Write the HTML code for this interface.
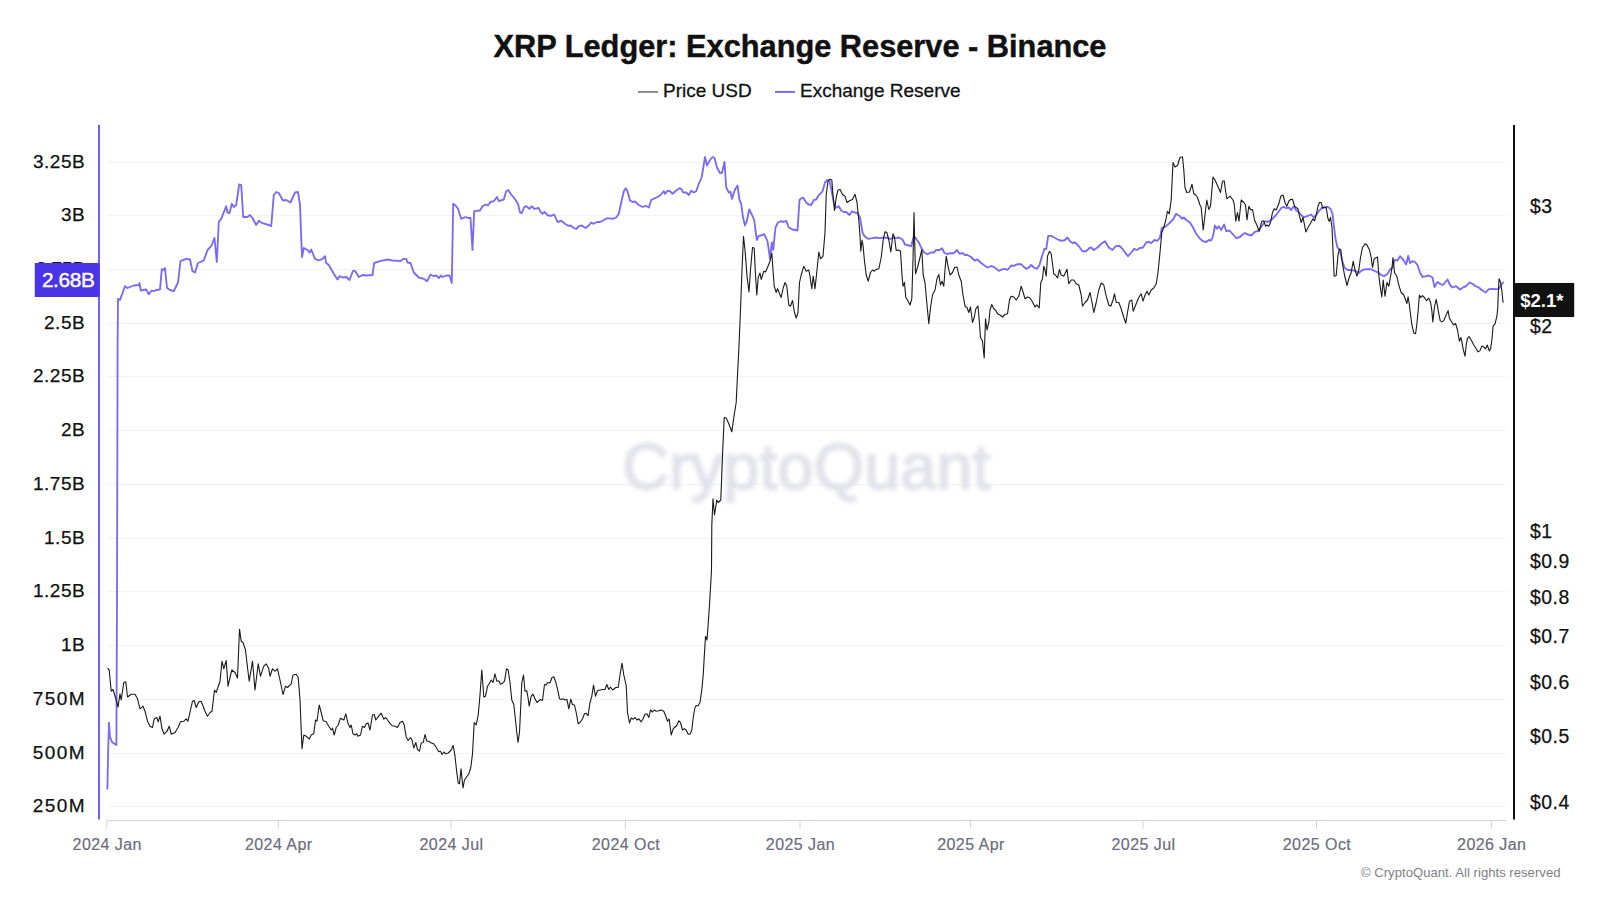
<!DOCTYPE html>
<html><head><meta charset="utf-8"><title>XRP Ledger: Exchange Reserve - Binance</title>
<style>
html,body{margin:0;padding:0;background:#fff;}
body{width:1600px;height:900px;overflow:hidden;position:relative;font-family:"Liberation Sans",Arial,sans-serif;}
svg{position:absolute;left:0;top:0;}
text{font-family:"Liberation Sans",Arial,sans-serif;}
.title{font-size:30.75px;font-weight:700;fill:#111;stroke:#111;stroke-width:0.45px;}
.leg{font-size:19px;fill:#111;stroke:#111;stroke-width:0.3px;}
.yl{font-size:19px;letter-spacing:0.55px;fill:#111;stroke:#111;stroke-width:0.25px;text-anchor:end;}
.yr{font-size:19.4px;letter-spacing:0.5px;fill:#111;stroke:#111;stroke-width:0.25px;text-anchor:start;}
.xl{font-size:16px;letter-spacing:0.45px;fill:#6c6c7c;stroke:#6c6c7c;stroke-width:0.2px;text-anchor:middle;}
.foot{font-size:13.15px;fill:#808088;text-anchor:end;}
.wm{font-size:64.6px;letter-spacing:0.2px;fill:#e2e2eb;stroke:#e2e2eb;stroke-width:2px;text-anchor:middle;filter:url(#blur);}
</style></head><body>
<svg width="1600" height="900" viewBox="0 0 1600 900">
<defs><filter id="blur" x="-5%" y="-20%" width="110%" height="140%"><feGaussianBlur stdDeviation="2"/></filter></defs>
<text class="title" x="800" y="57" text-anchor="middle">XRP Ledger: Exchange Reserve - Binance</text>
<line x1="638" x2="658" y1="91.9" y2="91.9" stroke="#7d7d7d" stroke-width="1.7"/>
<text class="leg" x="663" y="97">Price USD</text>
<line x1="775" x2="795" y1="91.9" y2="91.9" stroke="#7565f5" stroke-width="1.9"/>
<text class="leg" x="800" y="97">Exchange Reserve</text>
<g stroke="#f3f3f6" stroke-width="1">
<line x1="107" x2="1506" y1="162.50" y2="162.50"/>
<line x1="107" x2="1506" y1="215.50" y2="215.50"/>
<line x1="107" x2="1506" y1="269.50" y2="269.50"/>
<line x1="107" x2="1506" y1="323.50" y2="323.50"/>
<line x1="107" x2="1506" y1="376.50" y2="376.50"/>
<line x1="107" x2="1506" y1="430.50" y2="430.50"/>
<line x1="107" x2="1506" y1="484.50" y2="484.50"/>
<line x1="107" x2="1506" y1="538.50" y2="538.50"/>
<line x1="107" x2="1506" y1="591.50" y2="591.50"/>
<line x1="107" x2="1506" y1="645.50" y2="645.50"/>
<line x1="107" x2="1506" y1="699.50" y2="699.50"/>
<line x1="107" x2="1506" y1="753.50" y2="753.50"/>
<line x1="107" x2="1506" y1="806.50" y2="806.50"/>
</g>
<text class="wm" x="806.5" y="488.5">CryptoQuant</text>
<line x1="106.5" x2="1506" y1="820.5" y2="820.5" stroke="#d3d2e8" stroke-width="1.2"/>
<line x1="106.75" x2="106.75" y1="820.5" y2="829" stroke="#d3d2e8" stroke-width="1"/>
<text class="xl" x="107.25" y="850">2024 Jan</text>
<line x1="278.25" x2="278.25" y1="820.5" y2="829" stroke="#d3d2e8" stroke-width="1"/>
<text class="xl" x="278.75" y="850">2024 Apr</text>
<line x1="451.00" x2="451.00" y1="820.5" y2="829" stroke="#d3d2e8" stroke-width="1"/>
<text class="xl" x="451.50" y="850">2024 Jul</text>
<line x1="625.50" x2="625.50" y1="820.5" y2="829" stroke="#d3d2e8" stroke-width="1"/>
<text class="xl" x="626.00" y="850">2024 Oct</text>
<line x1="800.00" x2="800.00" y1="820.5" y2="829" stroke="#d3d2e8" stroke-width="1"/>
<text class="xl" x="800.50" y="850">2025 Jan</text>
<line x1="970.50" x2="970.50" y1="820.5" y2="829" stroke="#d3d2e8" stroke-width="1"/>
<text class="xl" x="971.00" y="850">2025 Apr</text>
<line x1="1143.00" x2="1143.00" y1="820.5" y2="829" stroke="#d3d2e8" stroke-width="1"/>
<text class="xl" x="1143.50" y="850">2025 Jul</text>
<line x1="1316.50" x2="1316.50" y1="820.5" y2="829" stroke="#d3d2e8" stroke-width="1"/>
<text class="xl" x="1317.00" y="850">2025 Oct</text>
<line x1="1491.25" x2="1491.25" y1="820.5" y2="829" stroke="#d3d2e8" stroke-width="1"/>
<text class="xl" x="1491.75" y="850">2026 Jan</text>
<text class="yl" x="85.3" y="168.10">3.25B</text>
<text class="yl" x="85.3" y="221.10">3B</text>
<text class="yl" x="85.3" y="275.10" style="letter-spacing:0">2.75B</text>
<text class="yl" x="85.3" y="329.10">2.5B</text>
<text class="yl" x="85.3" y="382.10">2.25B</text>
<text class="yl" x="85.3" y="436.10">2B</text>
<text class="yl" x="85.3" y="490.10">1.75B</text>
<text class="yl" x="85.3" y="544.10">1.5B</text>
<text class="yl" x="85.3" y="597.10">1.25B</text>
<text class="yl" x="85.3" y="651.10">1B</text>
<text class="yl" x="86.0" y="705.10" style="letter-spacing:1.4px">750M</text>
<text class="yl" x="86.0" y="759.10" style="letter-spacing:1.4px">500M</text>
<text class="yl" x="86.0" y="812.10" style="letter-spacing:1.4px">250M</text>
<text class="yr" x="1530" y="213.10">$3</text>
<text class="yr" x="1530" y="333.10">$2</text>
<text class="yr" x="1530" y="537.60">$1</text>
<text class="yr" x="1530" y="568.10">$0.9</text>
<text class="yr" x="1530" y="603.60">$0.8</text>
<text class="yr" x="1530" y="642.60">$0.7</text>
<text class="yr" x="1530" y="688.60">$0.6</text>
<text class="yr" x="1530" y="742.60">$0.5</text>
<text class="yr" x="1530" y="809.10">$0.4</text>
<path d="M107.4 788.7 L108.2 750.0 L109.0 722.7 L110.0 737.0 L112.2 742.3 L116.4 745.0 L117.0 600.0 L117.6 345.0 L118.0 298.8 L120.0 300.0 L125.0 286.2 L127.5 288.0 L133.8 285.5 L138.8 285.0 L139.5 283.0 L140.8 290.5 L146.2 289.5 L148.8 294.2 L151.8 290.5 L153.8 291.2 L156.2 290.0 L160.0 289.5 L161.8 269.2 L163.8 270.0 L165.0 268.0 L167.0 288.0 L170.0 290.0 L173.8 291.2 L178.0 282.5 L180.5 261.2 L186.2 258.8 L190.0 259.5 L192.5 271.2 L195.0 272.5 L198.0 263.0 L203.8 260.5 L207.5 250.0 L211.2 246.2 L214.5 238.0 L216.8 262.0 L218.8 221.8 L221.2 218.8 L226.2 206.2 L227.5 212.5 L229.5 213.0 L231.8 203.8 L233.8 207.0 L236.2 205.0 L239.2 184.5 L241.2 185.0 L243.2 217.0 L247.5 217.0 L250.0 215.0 L252.5 218.0 L256.2 225.0 L258.8 220.8 L262.5 223.2 L268.8 225.0 L271.2 226.2 L273.8 195.0 L276.2 192.0 L278.8 193.0 L283.0 200.5 L286.2 200.0 L290.5 202.5 L295.0 192.5 L298.0 192.0 L300.0 205.0 L302.0 257.0 L303.8 248.0 L307.5 250.0 L309.5 252.5 L311.2 249.5 L315.0 258.8 L318.8 260.5 L322.5 258.8 L325.0 256.2 L326.2 263.0 L328.8 265.0 L333.8 273.8 L337.5 279.5 L339.5 276.2 L342.5 277.5 L346.2 277.0 L349.5 280.0 L353.0 270.8 L355.0 270.8 L358.8 277.0 L362.5 275.0 L366.2 275.5 L372.5 275.0 L374.2 263.0 L380.0 261.2 L387.5 259.5 L392.5 260.5 L400.0 260.8 L400.0 261.2 L403.8 258.8 L406.2 258.8 L407.5 262.5 L410.5 263.0 L413.8 272.5 L418.8 277.5 L423.8 278.8 L427.0 281.2 L430.5 274.5 L433.8 276.2 L436.2 275.5 L438.8 278.0 L441.2 275.5 L442.5 277.0 L446.2 275.5 L449.5 275.5 L451.8 283.0 L453.2 203.8 L455.5 205.5 L458.0 208.8 L461.2 218.8 L465.5 217.0 L468.0 218.0 L470.5 218.0 L472.5 250.0 L474.2 211.2 L480.0 210.5 L482.5 206.2 L486.2 204.5 L488.0 205.5 L490.5 202.0 L493.8 201.2 L497.0 197.0 L498.8 201.2 L503.8 199.5 L506.2 191.2 L508.2 190.0 L511.2 194.5 L513.8 197.5 L518.0 203.8 L520.0 212.5 L521.8 213.0 L524.2 207.0 L526.2 206.2 L529.5 208.8 L531.8 206.2 L534.2 208.8 L538.8 208.0 L540.5 212.0 L542.5 213.8 L544.5 212.0 L548.0 215.5 L551.2 215.8 L554.2 214.5 L557.5 222.0 L561.2 220.8 L565.0 223.8 L568.0 225.8 L570.5 225.5 L573.8 228.0 L576.2 229.0 L578.8 226.2 L581.8 225.5 L585.5 228.0 L588.8 225.5 L591.2 222.5 L593.8 223.8 L597.5 221.8 L600.0 222.0 L603.8 220.0 L607.5 218.2 L612.5 218.8 L616.2 217.5 L618.8 213.8 L621.2 202.5 L623.8 191.2 L625.8 188.2 L627.5 191.2 L630.0 200.5 L632.5 202.0 L635.0 201.5 L638.8 205.0 L642.5 207.0 L645.8 205.8 L648.8 207.5 L651.2 200.0 L655.0 198.2 L660.0 195.5 L663.8 191.2 L665.0 193.8 L667.5 190.8 L670.0 191.2 L672.5 193.8 L676.2 190.5 L679.5 188.2 L681.2 188.8 L683.2 192.5 L686.2 192.5 L688.8 195.0 L691.2 190.8 L693.8 192.5 L696.2 191.2 L698.8 183.8 L701.8 177.0 L705.0 157.0 L707.0 165.5 L710.0 160.0 L712.5 157.0 L714.5 158.0 L717.0 167.5 L720.0 173.0 L721.8 173.2 L724.5 162.0 L726.2 187.5 L728.8 192.5 L730.5 191.8 L732.0 198.8 L735.0 189.5 L737.5 185.5 L739.5 200.0 L741.2 203.8 L743.0 217.5 L745.0 225.5 L746.8 221.2 L749.2 209.5 L751.8 214.5 L754.2 220.0 L756.8 240.0 L758.8 235.8 L762.5 235.0 L764.2 234.2 L767.5 241.2 L770.0 258.8 L771.8 242.5 L773.2 250.0 L775.5 227.5 L778.0 222.5 L781.2 221.2 L783.8 222.0 L786.2 220.8 L788.8 227.5 L792.5 229.5 L797.5 230.5 L799.5 200.0 L800.8 198.8 L803.0 197.5 L806.2 202.5 L808.8 204.5 L811.2 205.0 L813.8 200.0 L816.2 199.5 L818.8 195.0 L820.5 193.8 L822.5 191.2 L825.0 182.5 L827.5 180.0 L829.5 181.2 L831.2 188.8 L833.8 202.5 L835.5 208.0 L838.8 206.2 L841.2 210.5 L843.8 212.0 L846.2 212.0 L849.5 215.0 L852.0 211.2 L854.5 212.5 L857.5 213.0 L860.0 217.5 L862.5 232.5 L864.5 236.2 L868.0 238.8 L872.5 238.2 L876.2 237.5 L880.0 238.2 L883.8 237.5 L887.5 238.0 L890.5 238.8 L893.8 237.5 L896.2 238.2 L898.8 237.5 L902.5 239.5 L905.0 244.5 L908.8 245.5 L911.2 246.2 L913.8 236.2 L916.2 238.8 L918.8 242.5 L921.8 248.8 L924.2 252.5 L927.5 254.2 L931.2 252.5 L933.8 252.5 L936.2 250.0 L939.5 250.0 L942.0 248.2 L944.5 253.0 L947.5 254.2 L950.0 253.2 L953.8 253.2 L957.0 250.0 L959.5 253.8 L962.5 253.0 L965.0 255.0 L967.5 255.0 L971.2 257.0 L974.5 260.5 L977.5 259.5 L980.5 262.5 L983.8 265.0 L987.5 267.5 L991.2 266.2 L993.8 266.8 L996.2 268.8 L998.8 270.8 L1002.5 269.2 L1005.0 268.8 L1007.5 270.0 L1011.2 265.5 L1013.8 265.8 L1017.5 264.2 L1021.2 264.2 L1023.8 266.8 L1026.2 268.8 L1028.8 267.5 L1031.2 265.0 L1033.8 267.5 L1037.0 268.8 L1039.5 265.0 L1042.0 256.2 L1044.5 248.8 L1046.2 249.2 L1048.2 235.8 L1051.2 235.8 L1055.0 238.0 L1058.8 240.0 L1062.0 240.8 L1065.0 240.0 L1067.5 237.5 L1070.0 241.2 L1072.5 243.0 L1075.0 242.5 L1078.8 246.2 L1082.5 251.2 L1086.2 251.2 L1089.5 248.0 L1091.2 247.5 L1093.8 250.0 L1097.5 247.5 L1101.2 243.8 L1105.0 241.2 L1108.8 247.5 L1112.5 250.0 L1115.5 246.2 L1119.5 245.8 L1122.5 248.8 L1125.5 253.2 L1128.0 256.2 L1131.2 252.5 L1134.2 248.8 L1136.8 250.0 L1140.0 248.0 L1143.0 247.5 L1146.2 242.5 L1148.8 241.8 L1151.2 243.2 L1154.5 240.0 L1157.5 240.8 L1160.0 237.5 L1161.8 228.0 L1163.8 227.5 L1166.2 226.2 L1170.0 222.5 L1173.0 219.5 L1176.2 213.8 L1178.0 215.0 L1180.0 216.2 L1182.0 218.8 L1183.8 217.5 L1186.2 220.0 L1190.0 222.5 L1193.0 227.5 L1196.2 233.8 L1200.0 238.8 L1200.0 238.8 L1203.0 241.2 L1206.2 242.0 L1208.8 240.0 L1211.2 240.5 L1213.0 236.2 L1215.0 225.5 L1217.0 228.8 L1218.8 226.2 L1221.2 230.0 L1224.2 224.5 L1226.2 231.2 L1229.5 230.5 L1232.5 233.8 L1236.2 238.0 L1240.0 237.0 L1242.5 234.5 L1245.0 233.0 L1247.5 234.5 L1251.2 235.5 L1255.0 231.8 L1258.8 230.5 L1262.5 225.0 L1265.0 221.2 L1268.0 222.0 L1271.2 220.0 L1275.0 216.2 L1278.0 212.5 L1281.2 208.0 L1283.8 206.8 L1286.2 208.2 L1288.8 207.5 L1291.2 210.0 L1293.8 206.2 L1296.2 210.5 L1298.8 212.0 L1301.2 215.0 L1303.8 217.5 L1307.0 216.2 L1311.2 214.5 L1313.8 217.5 L1316.2 215.0 L1318.8 211.2 L1321.8 208.0 L1325.0 207.5 L1327.5 206.8 L1330.5 208.8 L1332.5 213.8 L1333.8 225.0 L1335.5 238.8 L1337.5 247.5 L1340.0 250.5 L1342.0 260.0 L1344.5 267.5 L1347.5 270.0 L1351.2 270.0 L1355.0 270.8 L1358.8 273.0 L1362.5 270.0 L1366.2 269.2 L1371.2 269.2 L1375.0 271.2 L1378.0 272.5 L1381.2 275.0 L1384.2 276.2 L1387.5 273.8 L1390.0 269.5 L1392.5 267.5 L1394.5 260.0 L1397.5 260.5 L1400.0 256.2 L1402.5 258.8 L1405.0 262.5 L1406.2 264.5 L1408.2 255.8 L1410.0 263.0 L1412.5 261.2 L1415.0 262.0 L1417.5 265.0 L1420.0 272.5 L1422.5 277.0 L1426.2 276.2 L1428.8 275.5 L1432.5 277.5 L1434.5 287.0 L1437.5 282.0 L1440.0 283.8 L1443.0 285.0 L1445.0 282.5 L1447.5 279.5 L1450.0 285.0 L1452.5 287.5 L1456.2 286.2 L1460.0 289.5 L1463.8 287.0 L1466.2 286.2 L1469.5 282.5 L1472.5 283.8 L1475.0 285.8 L1478.8 287.5 L1482.5 290.8 L1485.8 292.5 L1488.8 289.2 L1492.5 288.8 L1496.2 289.2 L1498.8 288.8 L1501.2 285.0 L1503.2 282.5" fill="none" stroke="#7a6af5" stroke-width="1.85" stroke-linejoin="round" stroke-linecap="round"/>
<path d="M107.5 668.2 L109.2 670.0 L111.2 691.2 L113.0 689.5 L115.5 697.5 L118.0 707.0 L120.0 693.8 L121.2 700.0 L123.8 682.5 L125.8 681.8 L127.5 697.0 L131.2 694.2 L135.0 694.2 L137.5 698.8 L140.0 708.8 L143.0 706.2 L145.0 711.2 L147.5 721.2 L150.0 726.2 L152.5 727.5 L154.2 718.8 L156.8 717.5 L158.2 721.8 L160.0 716.2 L162.0 728.8 L164.2 734.2 L167.0 731.2 L169.2 726.2 L171.2 734.2 L175.0 732.5 L178.0 727.5 L180.5 721.8 L183.8 721.2 L186.2 718.8 L188.0 721.2 L190.5 710.0 L192.5 701.2 L194.2 700.5 L196.2 707.5 L198.8 701.8 L201.2 701.2 L205.0 711.2 L207.5 716.2 L210.0 712.5 L212.0 711.2 L214.5 690.0 L216.2 692.5 L220.0 681.2 L222.0 661.2 L223.8 668.8 L226.2 660.5 L228.0 686.2 L231.8 670.0 L235.0 672.5 L237.5 678.0 L239.5 629.2 L241.2 641.2 L243.0 642.5 L245.5 650.0 L247.5 667.5 L249.2 681.2 L252.5 661.2 L255.0 690.0 L258.2 663.8 L260.5 676.2 L263.8 666.2 L266.2 663.8 L268.8 668.8 L270.0 676.2 L272.5 668.8 L275.0 671.2 L277.5 668.8 L280.0 680.0 L283.0 694.5 L285.5 686.2 L287.5 687.5 L291.2 683.8 L293.0 675.0 L296.2 674.2 L298.2 677.5 L300.0 700.0 L302.0 748.8 L303.8 735.0 L306.2 736.2 L309.2 739.2 L311.2 735.0 L313.8 733.8 L315.5 720.0 L317.0 721.2 L319.2 705.0 L321.2 712.5 L323.2 720.8 L326.2 721.8 L328.8 726.2 L331.2 730.0 L332.5 728.2 L334.2 735.0 L336.2 727.5 L338.0 725.5 L340.5 718.2 L343.8 720.0 L345.8 713.8 L348.0 723.2 L350.0 727.5 L351.2 725.0 L353.0 733.8 L355.0 735.0 L356.8 733.8 L358.0 736.2 L360.5 735.0 L362.5 726.2 L364.5 727.5 L366.2 723.8 L368.0 723.0 L370.0 730.0 L372.5 715.0 L374.2 714.5 L375.8 720.0 L378.8 716.2 L381.2 713.2 L383.8 719.2 L385.8 717.5 L388.8 721.8 L391.8 725.5 L395.0 726.2 L397.5 727.5 L400.0 722.5 L400.0 722.5 L402.5 721.2 L404.2 725.0 L406.2 737.0 L408.2 740.5 L410.5 737.5 L412.0 740.0 L413.8 748.0 L415.8 742.5 L417.5 749.5 L419.5 751.2 L421.2 743.0 L423.2 742.5 L425.0 734.5 L426.8 741.2 L428.8 741.2 L431.2 743.0 L433.8 743.8 L436.2 747.5 L438.8 751.8 L440.5 751.2 L442.0 754.5 L443.8 752.0 L445.8 753.8 L448.2 753.0 L451.2 750.0 L453.2 745.5 L455.0 756.2 L456.8 772.5 L458.2 783.0 L459.5 783.8 L461.0 768.8 L463.0 788.0 L464.5 780.0 L466.2 777.5 L468.8 773.8 L470.8 767.5 L472.5 753.8 L474.2 722.5 L476.2 725.0 L478.2 715.0 L480.0 695.0 L481.8 670.0 L483.8 697.0 L485.5 696.2 L487.5 686.2 L489.2 683.8 L491.2 680.0 L493.0 682.5 L495.0 673.8 L496.8 681.2 L498.8 680.8 L500.5 684.2 L502.5 683.2 L504.5 681.2 L506.5 668.8 L508.2 670.0 L510.0 682.5 L511.8 700.0 L513.8 704.5 L515.5 720.0 L516.8 732.5 L518.0 742.5 L519.5 732.5 L520.8 705.0 L521.8 682.5 L523.5 675.0 L525.0 691.2 L526.8 690.8 L528.0 697.5 L529.2 706.2 L531.2 696.2 L533.0 694.2 L535.0 698.8 L537.0 702.5 L538.8 700.8 L540.5 699.5 L542.5 700.5 L544.5 684.5 L546.2 685.0 L547.5 682.5 L550.0 683.0 L552.0 677.5 L553.8 676.8 L555.5 681.2 L557.5 688.8 L559.5 698.8 L561.2 699.5 L563.0 698.8 L565.0 700.0 L567.0 699.5 L568.8 708.8 L570.8 699.2 L572.5 704.5 L574.5 705.0 L576.2 712.5 L578.2 723.8 L580.0 722.5 L582.5 718.8 L584.5 713.8 L586.2 713.2 L588.0 715.8 L590.0 702.5 L591.8 696.2 L593.5 685.0 L595.5 696.2 L597.5 690.8 L600.0 690.0 L602.5 689.5 L605.0 689.5 L606.8 684.5 L608.8 689.5 L610.5 687.0 L612.5 690.0 L614.2 688.8 L615.8 687.5 L618.2 687.5 L620.0 675.0 L622.0 663.2 L623.8 675.0 L626.2 685.5 L627.5 712.5 L629.5 723.0 L631.2 718.0 L633.2 719.2 L635.0 717.5 L637.0 720.0 L638.8 718.8 L641.2 721.8 L643.0 718.8 L645.0 714.2 L647.0 713.8 L648.8 717.5 L650.5 710.0 L652.5 712.0 L654.2 710.0 L656.2 711.2 L658.8 710.8 L661.2 710.0 L663.8 711.2 L665.8 716.2 L667.5 721.2 L669.2 719.2 L671.2 735.0 L673.2 728.8 L675.0 727.0 L676.8 725.5 L678.8 720.8 L680.5 722.5 L682.5 730.0 L684.2 728.8 L686.2 730.0 L688.2 734.2 L690.0 734.2 L691.8 730.0 L693.2 717.5 L695.0 707.5 L696.2 705.5 L698.0 705.8 L700.0 702.5 L701.8 690.0 L703.2 675.0 L704.5 652.5 L705.5 636.2 L707.0 640.0 L708.2 623.8 L709.5 605.0 L710.5 587.5 L711.5 570.0 L711.8 525.0 L713.0 498.8 L714.5 515.0 L716.8 500.0 L718.2 502.5 L720.8 500.0 L722.5 455.0 L724.2 417.5 L726.2 418.0 L728.8 423.8 L731.8 431.8 L733.8 417.5 L736.2 402.5 L737.5 375.0 L738.8 350.0 L740.5 310.0 L742.0 270.0 L743.5 236.2 L745.0 250.0 L747.0 276.2 L749.0 292.0 L750.5 270.0 L752.5 247.5 L754.2 248.0 L755.5 275.0 L756.8 295.0 L758.2 277.5 L760.0 273.0 L761.2 279.5 L763.8 271.2 L765.5 272.0 L767.5 267.5 L770.0 261.2 L771.8 253.0 L773.0 270.0 L774.2 286.2 L776.2 292.5 L777.5 288.8 L781.2 297.5 L783.2 288.0 L785.0 282.5 L786.8 286.2 L788.8 305.0 L790.5 306.2 L792.5 300.5 L794.5 312.5 L796.2 318.2 L798.0 312.5 L799.5 282.5 L801.2 275.0 L803.8 266.2 L806.2 271.2 L808.8 270.0 L810.0 276.2 L811.8 288.8 L813.2 276.2 L815.0 288.8 L817.0 270.0 L818.8 252.0 L820.5 258.8 L823.0 256.2 L825.0 232.5 L826.2 195.0 L828.0 181.2 L830.0 179.2 L831.8 180.0 L833.0 195.0 L834.5 210.5 L836.2 197.5 L838.0 190.0 L840.0 189.5 L842.5 194.5 L845.0 196.2 L847.0 202.5 L850.0 200.5 L852.5 199.5 L855.0 194.2 L857.0 202.5 L858.8 220.0 L860.0 236.2 L860.8 251.2 L862.0 240.0 L863.0 245.0 L864.5 261.2 L866.2 275.0 L868.2 281.2 L870.5 272.5 L872.5 270.0 L874.2 271.2 L876.2 269.5 L878.8 268.8 L881.2 257.5 L883.2 240.0 L885.0 231.8 L886.8 232.5 L888.8 240.0 L890.8 252.0 L893.0 233.8 L894.5 237.5 L896.2 250.5 L898.8 250.0 L900.5 251.2 L902.0 275.0 L903.0 286.2 L904.5 282.5 L905.8 297.5 L907.5 300.0 L910.0 305.0 L911.8 298.8 L913.0 260.0 L914.0 212.5 L914.8 245.0 L915.5 273.8 L917.5 267.5 L920.0 257.5 L921.8 249.5 L923.2 275.0 L925.0 282.5 L926.8 302.5 L928.8 323.8 L930.5 307.5 L932.5 295.0 L935.0 290.0 L937.0 278.8 L938.8 274.5 L940.5 285.0 L942.0 281.2 L943.8 286.2 L945.0 270.0 L946.2 256.2 L948.0 266.2 L950.0 275.0 L952.5 272.5 L954.5 267.5 L957.0 267.0 L958.8 275.0 L961.2 281.2 L963.0 295.0 L965.0 306.2 L967.0 307.5 L968.8 312.5 L970.5 307.0 L972.5 322.5 L974.2 317.5 L975.8 308.8 L978.0 306.2 L979.2 320.0 L980.5 337.5 L982.5 341.2 L984.2 358.0 L985.5 318.8 L987.0 330.0 L988.8 322.5 L990.0 310.0 L991.8 304.5 L993.8 308.8 L995.5 310.0 L997.5 313.8 L1000.0 315.0 L1002.5 317.0 L1005.0 314.5 L1007.5 313.8 L1009.5 300.0 L1011.2 296.2 L1013.8 297.0 L1016.2 300.0 L1018.8 296.2 L1021.2 286.2 L1023.2 292.5 L1025.0 298.8 L1027.5 297.0 L1030.0 298.0 L1032.5 302.0 L1035.0 307.0 L1037.0 305.0 L1039.2 308.0 L1040.8 282.5 L1042.5 278.8 L1043.8 266.2 L1045.0 270.0 L1046.2 276.2 L1047.5 256.2 L1049.5 251.2 L1051.2 253.8 L1052.5 263.8 L1053.8 273.8 L1055.5 275.0 L1057.5 278.0 L1059.5 269.5 L1061.2 275.0 L1063.8 276.2 L1067.0 269.2 L1068.8 283.8 L1071.2 280.0 L1073.8 280.0 L1076.2 283.8 L1078.8 285.0 L1081.2 295.0 L1082.5 306.2 L1085.0 302.5 L1087.5 300.0 L1090.0 292.5 L1092.0 302.5 L1093.8 312.5 L1096.2 302.5 L1098.8 290.0 L1101.2 283.0 L1103.8 285.0 L1106.2 296.2 L1108.8 305.0 L1110.8 306.2 L1113.0 300.0 L1114.5 293.8 L1116.2 302.5 L1118.8 302.5 L1121.2 308.8 L1123.8 317.5 L1125.8 323.2 L1127.5 312.5 L1129.5 301.2 L1131.8 300.0 L1133.2 311.2 L1136.2 303.8 L1138.8 297.5 L1141.2 293.8 L1143.0 301.2 L1145.0 295.0 L1147.0 291.2 L1148.8 295.0 L1151.2 290.0 L1153.8 288.0 L1156.2 283.8 L1158.0 272.5 L1160.0 252.5 L1161.8 232.5 L1163.8 227.5 L1165.8 220.0 L1167.5 211.2 L1169.2 213.8 L1171.2 200.0 L1173.0 162.5 L1175.0 167.0 L1177.5 165.5 L1180.0 157.5 L1182.5 156.8 L1183.8 170.0 L1185.0 187.5 L1186.8 192.5 L1189.5 192.0 L1192.0 184.2 L1193.8 193.8 L1195.8 195.0 L1197.5 197.5 L1200.0 205.0 L1200.0 205.0 L1201.2 207.5 L1203.2 230.0 L1205.0 215.0 L1206.8 200.0 L1208.8 209.5 L1210.5 206.2 L1213.0 177.0 L1215.0 180.0 L1217.5 185.5 L1220.5 192.5 L1222.5 181.2 L1224.2 180.8 L1225.8 192.5 L1227.0 198.8 L1230.0 196.2 L1233.0 200.0 L1234.2 203.8 L1235.8 221.2 L1237.5 212.5 L1239.0 221.2 L1241.2 200.0 L1243.8 202.5 L1245.5 205.0 L1247.0 220.0 L1248.8 206.2 L1250.8 210.0 L1252.5 209.5 L1254.5 220.0 L1256.8 225.0 L1259.2 231.2 L1261.8 221.2 L1263.8 220.8 L1265.5 226.2 L1267.0 225.0 L1268.8 226.2 L1270.5 222.5 L1272.5 212.5 L1274.2 208.8 L1276.2 210.0 L1278.8 203.8 L1280.8 196.2 L1283.0 195.0 L1285.0 202.5 L1286.8 206.2 L1288.8 201.2 L1290.5 199.5 L1292.5 199.2 L1294.5 206.2 L1296.2 207.5 L1298.0 208.8 L1299.5 216.2 L1301.2 222.5 L1303.0 217.5 L1304.5 225.0 L1305.8 232.0 L1308.0 227.5 L1311.2 222.0 L1313.0 218.8 L1314.5 220.8 L1316.2 215.0 L1318.0 206.2 L1319.5 202.5 L1321.2 202.5 L1322.5 208.0 L1324.5 207.0 L1326.2 207.5 L1328.0 218.8 L1329.2 221.2 L1330.5 217.5 L1332.0 227.5 L1333.2 255.0 L1334.2 276.2 L1336.2 275.5 L1338.0 255.0 L1339.5 248.8 L1340.8 250.0 L1342.5 263.8 L1344.5 275.0 L1347.0 285.5 L1349.2 277.5 L1351.2 272.5 L1353.2 261.2 L1355.0 270.0 L1357.0 276.2 L1358.8 270.0 L1360.5 257.5 L1362.5 247.5 L1365.0 243.8 L1367.0 245.0 L1369.5 250.0 L1371.2 257.5 L1372.5 267.5 L1374.2 258.8 L1377.5 257.0 L1378.8 275.0 L1380.0 285.0 L1381.8 297.0 L1383.2 280.0 L1385.0 296.2 L1387.0 282.5 L1388.8 286.2 L1390.8 275.0 L1392.0 267.5 L1393.0 257.5 L1394.5 272.5 L1396.8 276.2 L1398.8 285.0 L1400.0 288.8 L1401.2 292.5 L1403.8 295.0 L1405.6 300.0 L1406.9 303.5 L1408.1 296.9 L1409.4 305.0 L1410.6 315.0 L1411.9 325.0 L1413.8 333.1 L1415.6 333.8 L1416.9 323.8 L1418.1 311.2 L1419.4 295.0 L1420.6 297.5 L1422.5 295.6 L1424.4 297.5 L1426.5 300.6 L1428.8 298.1 L1430.6 302.5 L1431.9 311.2 L1432.8 321.9 L1434.4 307.5 L1436.2 299.4 L1437.5 306.2 L1438.8 313.8 L1440.2 320.6 L1441.9 321.9 L1443.8 320.6 L1445.6 316.2 L1448.1 310.6 L1449.4 318.1 L1451.2 321.2 L1453.5 325.0 L1455.6 323.5 L1457.5 330.0 L1459.4 341.2 L1460.9 337.5 L1461.9 341.9 L1463.1 348.8 L1465.0 356.2 L1466.2 345.0 L1467.5 338.1 L1469.1 336.6 L1471.2 340.0 L1473.8 345.0 L1476.2 348.8 L1478.1 351.9 L1480.0 350.6 L1481.9 346.0 L1483.8 346.9 L1485.6 349.0 L1487.2 345.0 L1489.4 351.0 L1490.6 348.8 L1491.9 340.0 L1493.1 326.2 L1495.0 323.8 L1496.9 316.2 L1497.8 307.5 L1498.4 290.0 L1499.1 278.8 L1500.6 282.5 L1501.9 291.2 L1503.1 302.8" fill="none" stroke="#1a1a1a" stroke-width="1.1" stroke-linejoin="round"/>
<line x1="99" x2="99" y1="125" y2="819.5" stroke="#7161ee" stroke-width="2"/>
<line x1="1514" x2="1514" y1="125" y2="819.5" stroke="#111" stroke-width="2"/>
<rect x="34.75" y="263" width="65" height="34" fill="#4a33e8"/>
<text x="68.2" y="287.4" text-anchor="middle" font-size="20.8" letter-spacing="-0.35" fill="#fff" stroke="#fff" stroke-width="0.45">2.68B</text>
<rect x="1514.5" y="283" width="59.7" height="34" fill="#111"/>
<text x="1541.8" y="306.8" text-anchor="middle" font-size="18.5" font-weight="700" fill="#fff">$2.1*</text>
<text class="foot" x="1560.5" y="877.3">© CryptoQuant. All rights reserved</text>
</svg></body></html>
